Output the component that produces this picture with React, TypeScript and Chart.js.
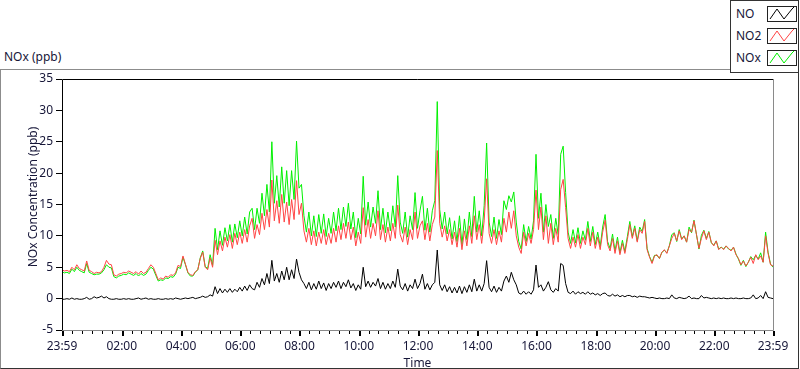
import React, { useEffect, useRef } from "react";
import { Chart, registerables } from "chart.js";

Chart.register(...registerables);

const START_TIME = "23:59";
const STEP_MINUTES = 5;
const X_TICK_LABELS = ["23:59", "02:00", "04:00", "06:00", "08:00", "10:00", "12:00", "14:00", "16:00", "18:00", "20:00", "22:00", "23:59"];
const Y_TICKS = [-5, 0, 5, 10, 15, 20, 25, 30, 35];
const SERIES_NAMES = ["NO", "NO2", "NOx"];
const Y_TITLE = "NOx Concentration (ppb)";
const X_TITLE = "Time";
const CHART_TITLE = "NOx (ppb)";

const NO = [
  -0.1, -0.1, 0.0, -0.1, 0.1, -0.1, 0.0, -0.1, -0.1, 0.0, 0.2, -0.1,
  0.0, 0.3, 0.1, 0.2, 0.4, 0.1, 0.3, 0.0, -0.1, -0.1, 0.0, -0.1,
  -0.1, 0.0, -0.1, 0.0, -0.1, -0.1, 0.0, 0.1, -0.1, 0.0, 0.1, -0.1,
  0.0, -0.1, -0.1, 0.0, -0.1, -0.1, 0.0, -0.1, 0.0, -0.1, 0.1, 0.0,
  -0.1, 0.0, 0.1, 0.0, 0.1, 0.2, 0.0, 0.1, 0.2, 0.4, 0.2, 0.3,
  0.6, 0.4, 1.9, 0.8, 1.6, 0.9, 1.5, 1.0, 1.6, 1.0, 1.5, 1.1,
  1.8, 1.2, 2.0, 1.3, 2.2, 1.6, 1.4, 2.6, 1.8, 3.2, 2.2, 4.0,
  2.4, 6.1, 2.8, 4.0, 2.6, 4.4, 3.0, 5.0, 3.0, 4.6, 3.2, 6.3,
  4.2, 3.0, 2.4, 1.6, 2.6, 1.4, 2.4, 1.5, 2.8, 1.6, 2.5, 1.3,
  2.4, 1.6, 2.6, 1.8, 2.8, 1.6, 2.6, 1.9, 3.0, 1.7, 2.4, 1.3,
  2.2, 1.5, 5.0, 1.9, 2.8, 1.8, 2.6, 2.0, 3.2, 1.6, 2.6, 1.5,
  2.4, 1.6, 2.8, 1.8, 4.7, 2.0, 1.4, 2.4, 1.2, 2.2, 1.6, 3.1,
  1.6, 2.4, 3.9, 1.5, 2.4, 1.4, 2.2, 2.6, 7.75, 2.2, 1.3, 2.2,
  1.1, 1.9, 0.9, 1.8, 0.9, 2.0, 0.8, 1.9, 1.0, 2.2, 1.1, 3.1,
  1.2, 2.2, 1.2, 2.4, 6.05, 1.8, 1.1, 2.0, 1.0, 1.8, 1.2, 2.8,
  3.6, 2.6, 4.2, 3.0, 2.2, 0.9, 0.7, 1.2, 0.7, 1.1, 0.7, 1.4,
  5.35, 1.8, 2.2, 1.2, 1.8, 2.7, 1.4, 1.0, 1.6, 1.2, 5.6, 5.3,
  2.4, 1.0, 0.8, 1.2, 0.7, 1.1, 0.8, 1.0, 0.7, 1.1, 0.7, 0.9,
  0.6, 0.8, 0.5, 0.8, 0.9, 0.5, 0.4, 0.7, 0.4, 0.6, 0.3, 0.5,
  0.3, 0.5, 0.5, 0.3, 0.4, 0.2, 0.4, 0.3, 0.3, 0.2, 0.1, 0.2,
  0.1, 0.0, 0.1, 0.0, 0.0, 0.1, 0.0, 0.6, 0.1, 0.0, 0.2, 0.1,
  0.0, 0.1, 0.4, 0.0, 0.1, 0.0, 0.0, 0.5, 0.1, 0.2, 0.1, 0.0,
  0.1, 0.0, 0.1, 0.0, 0.1, 0.0, 0.0, 0.1, 0.0, 0.1, 0.0, 0.0,
  0.1, 0.0, 0.0, 0.1, 0.6, 0.0, 0.1, 0.5, 0.0, 1.1, 0.2, 0.1,
  0.0,
];

const NO2 = [
  4.6, 4.4, 4.5, 4.3, 5.0, 4.6, 5.4, 4.8, 4.6, 4.4, 6.0, 4.5,
  4.3, 4.0, 4.2, 4.1, 4.3, 5.0, 6.1, 5.5, 5.4, 3.8, 3.6, 3.9,
  4.0, 4.2, 4.1, 4.4, 4.2, 4.0, 4.3, 3.9, 4.4, 4.0, 4.2, 4.8,
  5.4, 5.0, 4.0, 3.0, 3.3, 3.1, 3.6, 3.4, 3.8, 3.7, 4.1, 5.3,
  5.1, 6.8, 5.5, 4.2, 3.8, 3.7, 4.3, 4.6, 6.4, 7.4, 5.0, 4.6,
  6.5, 5.0, 9.3, 7.0, 9.2, 7.6, 9.8, 8.2, 10.2, 8.0, 10.4, 8.6,
  10.6, 8.8, 11.0, 9.0, 11.6, 12.8, 9.6, 11.8, 10.2, 13.6, 11.0, 14.2,
  11.4, 18.9, 12.4, 15.6, 12.0, 16.6, 12.2, 15.4, 11.8, 15.8, 12.6, 18.8,
  13.4, 15.2, 10.8, 9.0, 11.2, 8.6, 10.8, 8.4, 10.6, 8.8, 11.0, 8.6,
  10.4, 8.8, 11.2, 9.0, 11.6, 9.4, 12.0, 9.6, 12.2, 9.4, 11.4, 8.4,
  10.6, 8.8, 14.5, 9.8, 12.6, 9.6, 12.0, 10.0, 14.0, 9.4, 11.8, 9.0,
  11.4, 9.2, 12.0, 9.6, 14.9, 10.2, 9.0, 11.4, 8.6, 11.0, 9.4, 13.8,
  9.6, 11.6, 12.4, 9.4, 12.0, 9.2, 11.8, 13.0, 23.6, 12.0, 9.8, 11.6,
  9.2, 11.0, 8.6, 10.6, 8.2, 11.2, 7.8, 10.8, 8.4, 11.6, 8.8, 13.2,
  9.4, 11.8, 8.8, 12.4, 19.1, 10.4, 8.8, 11.0, 8.6, 10.8, 9.0, 12.8,
  10.6, 13.8, 11.2, 14.0, 10.0, 8.2, 7.2, 10.6, 8.4, 10.4, 8.8, 11.0,
  17.3, 11.0, 14.6, 9.4, 13.2, 8.8, 12.0, 8.6, 11.2, 9.0, 17.4, 19.0,
  14.5, 9.6, 8.0, 9.8, 8.2, 10.2, 8.0, 9.8, 8.6, 11.2, 8.4, 10.6,
  8.0, 9.8, 7.8, 10.6, 12.5, 8.6, 7.6, 9.6, 7.2, 9.2, 7.0, 8.8,
  7.2, 9.4, 11.8, 9.6, 11.2, 9.0, 11.0, 10.4, 12.3, 7.8, 6.6, 5.6,
  6.8, 7.0, 6.4, 7.4, 7.8, 7.2, 8.4, 9.6, 10.4, 9.2, 10.8, 9.4,
  10.0, 9.0, 11.0, 10.6, 12.4, 10.2, 8.0, 9.6, 10.8, 9.4, 10.6, 9.0,
  8.4, 9.2, 7.8, 8.2, 7.8, 8.4, 8.0, 7.6, 8.2, 7.0, 6.4, 5.4,
  6.0, 5.2, 5.8, 6.6, 5.6, 7.0, 6.2, 6.8, 5.8, 10.0, 7.2, 5.4,
  5.2,
];

const NOX = [
  4.3, 4.1, 4.2, 4.0, 4.7, 4.3, 5.0, 4.5, 4.3, 4.1, 5.6, 4.2,
  4.0, 3.8, 3.9, 3.9, 4.1, 4.6, 5.4, 5.0, 4.9, 3.5, 3.3, 3.6,
  3.7, 3.9, 3.8, 4.1, 3.9, 3.7, 4.0, 3.6, 4.0, 3.7, 3.9, 4.5,
  5.0, 4.7, 3.7, 2.8, 3.0, 2.9, 3.3, 3.2, 3.5, 3.4, 3.9, 5.0,
  4.8, 6.6, 5.4, 4.1, 3.6, 3.6, 4.2, 4.6, 6.5, 7.6, 5.1, 4.8,
  7.0, 5.3, 11.2, 7.8, 10.8, 8.5, 11.3, 9.2, 11.8, 9.0, 11.9, 9.7,
  12.4, 10.0, 13.0, 10.3, 13.8, 14.4, 11.0, 14.4, 12.0, 16.8, 13.2, 18.2,
  13.8, 25.0, 15.2, 19.6, 14.6, 21.0, 15.2, 20.4, 14.8, 20.4, 15.8, 25.1,
  17.6, 18.2, 13.2, 10.6, 13.8, 10.0, 13.2, 9.9, 13.4, 10.4, 13.5, 9.9,
  12.8, 10.4, 13.8, 10.8, 14.4, 11.0, 14.6, 11.5, 15.2, 11.1, 13.8, 9.7,
  12.8, 10.3, 19.5, 11.7, 15.4, 11.4, 14.6, 12.0, 17.2, 11.0, 14.4, 10.5,
  13.8, 10.8, 14.8, 11.4, 19.6, 12.2, 10.4, 13.8, 9.8, 13.2, 11.0, 16.9,
  11.2, 14.0, 16.3, 10.9, 14.4, 10.6, 14.0, 15.6, 31.4, 14.2, 11.1, 13.8,
  10.3, 12.9, 9.5, 12.4, 9.1, 13.2, 8.6, 12.7, 9.4, 13.8, 9.9, 16.3,
  10.6, 14.0, 10.0, 14.8, 24.8, 12.2, 9.9, 13.0, 9.6, 12.6, 10.2, 15.6,
  14.2, 16.4, 15.4, 17.0, 12.2, 9.1, 7.9, 11.8, 9.1, 11.5, 9.5, 12.4,
  23.0, 12.8, 16.8, 10.6, 15.0, 11.5, 13.4, 9.6, 12.8, 10.2, 23.0, 24.3,
  16.9, 10.6, 8.8, 11.0, 8.9, 11.3, 8.8, 10.8, 9.3, 12.3, 9.1, 11.5,
  8.6, 10.6, 8.3, 11.4, 13.4, 9.1, 8.0, 10.3, 7.6, 9.8, 7.3, 9.3,
  7.5, 9.9, 12.3, 9.9, 11.6, 9.2, 11.4, 10.7, 12.6, 8.0, 6.7, 5.8,
  6.9, 6.9, 6.4, 7.4, 7.7, 7.3, 8.4, 10.2, 10.5, 9.1, 11.0, 9.5,
  10.0, 9.0, 11.4, 10.5, 12.5, 10.2, 7.9, 10.1, 10.9, 9.6, 10.7, 8.9,
  8.5, 9.2, 7.9, 8.2, 7.9, 8.4, 7.9, 7.7, 8.2, 7.1, 6.3, 5.3,
  6.1, 5.1, 5.8, 6.7, 6.2, 6.9, 6.3, 7.3, 5.8, 10.6, 7.4, 5.5,
  5.0,
];

const COLORS = ["#000000", "#ff4444", "#00f000"];
const FONT = "'Noto Sans', sans-serif";
const TEXT = "#161638";

function clockToMin(s: string) {
  const [h, m] = s.split(":").map(Number);
  return h * 60 + m;
}
const START_MIN = clockToMin(START_TIME);
const TICK_MINUTES = X_TICK_LABELS.map((l, i) => {
  let t = clockToMin(l) - START_MIN;
  if (i > 0 && t <= 0) t += 1440;
  return t;
});
const X_MAX = TICK_MINUTES[TICK_MINUTES.length - 1];

const toPoints = (arr: number[]) => arr.map((v, i) => ({ x: i * STEP_MINUTES, y: v }));

const framePlugin = {
  id: "frameTicks",
  afterDraw(chart: any) {
    const { ctx, chartArea } = chart;
    const { left, right, top, bottom } = chartArea;
    const xs = chart.scales.x;
    ctx.save();
    ctx.lineWidth = 1;
    ctx.strokeStyle = "#000";
    ctx.beginPath();
    ctx.moveTo(left + 0.5, bottom);
    ctx.lineTo(left + 0.5, top + 0.5);
    ctx.lineTo(right, top + 0.5);
    ctx.stroke();
    ctx.strokeStyle = "#8a8a8a";
    ctx.beginPath();
    ctx.moveTo(right + 0.5, top);
    ctx.lineTo(right + 0.5, bottom + 0.5);
    ctx.lineTo(left, bottom + 0.5);
    ctx.stroke();
    ctx.fillStyle = "#000";
    for (let t = 1; t < X_MAX; t++) {
      const c = (START_MIN + t) % 1440;
      if (c % 20 === 0 && c % 120 !== 0) {
        const px = Math.round(xs.getPixelForValue(t));
        ctx.fillRect(px, bottom + 1, 1, 3);
      }
    }
    TICK_MINUTES.forEach((t) => {
      const px = Math.round(xs.getPixelForValue(t));
      ctx.fillRect(px, bottom + 1, 2, 5);
    });
    // y-axis title
    ctx.translate(34, 197);
    ctx.rotate(-Math.PI / 2);
    ctx.fillStyle = TEXT;
    ctx.font = "12px " + FONT;
    ctx.textAlign = "center";
    ctx.textBaseline = "middle";
    ctx.fillText(Y_TITLE, 0, 0);
    ctx.restore();
  },
};

function LegendIcon({ color }: { color: string }) {
  return (
    <svg width="30" height="16" style={{ display: "block" }}>
      <rect x="0.5" y="0.5" width="29" height="15" fill="#fff" stroke="#222" />
      <polyline points="3,13 10,3 17,13 25,3 27,1" fill="none" stroke={color} strokeWidth="1" />
    </svg>
  );
}

export default function App() {
  const ref = useRef<HTMLCanvasElement | null>(null);

  useEffect(() => {
    if (!ref.current) return;
    const chart = new Chart(ref.current, {
      type: "line",
      data: {
        datasets: [
          { label: SERIES_NAMES[0], data: toPoints(NO), borderColor: COLORS[0], order: 0 },
          { label: SERIES_NAMES[1], data: toPoints(NO2), borderColor: COLORS[1], order: 1 },
          { label: SERIES_NAMES[2], data: toPoints(NOX), borderColor: COLORS[2], order: 2 },
        ].map((d) => ({ ...d, borderWidth: 1, pointRadius: 0, tension: 0, fill: false })),
      },
      options: {
        animation: false,
        responsive: false,
        devicePixelRatio: 1,
        layout: { padding: { left: 0, top: 79, right: 27, bottom: 0 } },
        plugins: { legend: { display: false }, tooltip: { enabled: false } },
        scales: {
          x: {
            type: "linear",
            min: 0,
            max: X_MAX,
            afterFit: (s: any) => { s.height = 39; },
            afterBuildTicks: (s: any) => { s.ticks = TICK_MINUTES.map((v) => ({ value: v })); },
            grid: { display: false, drawTicks: false },
            border: { display: false },
            ticks: {
              autoSkip: false,
              maxRotation: 0,
              padding: 9,
              color: TEXT,
              font: { family: FONT, size: 12 },
              callback: (_v: any, i: number) => X_TICK_LABELS[i],
            },
            title: {
              display: true,
              text: X_TITLE,
              color: TEXT,
              font: { family: FONT, size: 12 },
              padding: { top: 0, bottom: -2 },
            },
          },
          y: {
            min: Y_TICKS[0],
            max: Y_TICKS[Y_TICKS.length - 1],
            afterFit: (s: any) => { s.width = 62; },
            afterBuildTicks: (s: any) => { s.ticks = Y_TICKS.map((v) => ({ value: v })); },
            grid: { drawOnChartArea: false, drawTicks: true, tickLength: 6, color: "#000" },
            border: { display: false },
            ticks: {
              padding: 3,
              color: TEXT,
              font: { family: FONT, size: 12 },
              callback: (v: any) => String(v),
            },
            title: { display: false },
          },
        },
      },
      plugins: [framePlugin],
    } as any);
    return () => chart.destroy();
  }, []);

  return (
    <div style={{ position: "fixed", left: 0, top: 0, width: 800, height: 369, background: "#fff", fontFamily: FONT, overflow: "hidden" }}>
      <div style={{ position: "absolute", left: 0, top: 69, width: 797, height: 298, borderTop: "1px solid #8c8c8c", borderLeft: "1px solid #8c8c8c", borderRight: "1px solid #333", borderBottom: "1px solid #333" }} />
      <div style={{ position: "absolute", left: 4, top: 49, fontSize: 12, color: TEXT, lineHeight: "16px" }}>{CHART_TITLE}</div>
      <canvas ref={ref} width={800} height={369} style={{ position: "absolute", left: 0, top: 0, width: 800, height: 369 }} />
      <div style={{ position: "absolute", left: 730, top: 0, width: 67, height: 71, border: "1px solid #333", background: "#fff" }}>
        {SERIES_NAMES.map((n, i) => (
          <div key={n} style={{ position: "absolute", left: 5, top: 5 + i * 22, height: 16, width: 62 }}>
            <span style={{ position: "absolute", left: 0, top: 0, fontSize: 12, lineHeight: "16px", color: TEXT }}>{n}</span>
            <div style={{ position: "absolute", left: 31, top: 0 }}>
              <LegendIcon color={COLORS[i]} />
            </div>
          </div>
        ))}
      </div>
    </div>
  );
}
